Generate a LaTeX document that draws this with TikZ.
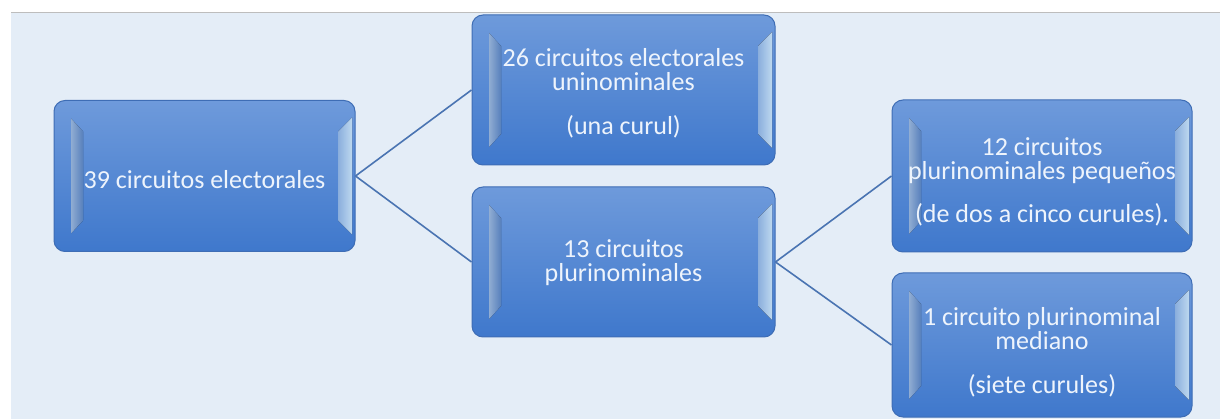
\documentclass[tikz,border=0pt]{standalone}
\usepackage{fontspec}
\setmainfont{Carlito}
\usetikzlibrary{calc}
\definecolor{bgblue}{HTML}{E4EDF7}
\definecolor{rulegray}{HTML}{BDBDBD}
\definecolor{boxtop}{HTML}{6E9ADB}
\definecolor{boxbot}{HTML}{3F78CC}
\definecolor{boxedge}{HTML}{3E6DB5}
\definecolor{bevlight}{HTML}{C8E4FC}
\definecolor{bevleft}{HTML}{A8C8F2}
\definecolor{linkblue}{HTML}{4A74B2}
\definecolor{txt}{HTML}{EEF4FC}
\tikzset{
  box/.style={draw=boxedge, line width=1pt, rounded corners=11pt,
    top color=boxtop, bottom color=boxbot, inner sep=0pt,
    path picture={
      \path (path picture bounding box.north west) coordinate (pnw)
            (path picture bounding box.south east) coordinate (pse);
      \fill[sharp corners, left color=bevleft, right color=boxtop!80!boxbot, opacity=0.85]
        ($(pnw)+(17pt,-18pt)$) -- ($(pnw)+(29pt,-31pt)$) -- ($(pnw|-pse)+(29pt,31pt)$) -- ($(pnw|-pse)+(17pt,18pt)$) -- cycle;
      \fill[sharp corners, left color=boxtop!60!bevlight, right color=bevlight, opacity=0.95]
        ($(pse|-pnw)+(-17pt,-31pt)$) -- ($(pse|-pnw)+(-3pt,-17pt)$) -- ($(pse)+(-3pt,17pt)$) -- ($(pse)+(-17pt,31pt)$) -- cycle;
    }},
  boxtext/.style={text=txt, align=center, font=\fontsize{26pt}{24pt}\selectfont, inner sep=0pt},
  link/.style={draw=linkblue, line width=1.6pt}
}
\begin{document}
\begin{tikzpicture}[x=1pt,y=-1pt]
\useasboundingbox (0,0) rectangle (1220,419);
\fill[bgblue] (11,13) rectangle (1220,419);
\draw[rulegray, line width=1pt] (11,13) -- (1220,13);

\node[box, minimum width=301pt, minimum height=151pt] (a) at (204.5,176) {};
\node[box, minimum width=303pt, minimum height=150pt] (b) at (623.5,90) {};
\node[box, minimum width=303pt, minimum height=150pt] (c) at (623.5,262) {};
\node[box, minimum width=300pt, minimum height=152pt] (d) at (1042,176) {};
\node[box, minimum width=300pt, minimum height=144pt] (e) at (1042,345) {};

\draw[link] (a.east) -- (b.west);
\draw[link] (a.east) -- (c.west);
\draw[link] (c.east) -- (d.west);
\draw[link] (c.east) -- (e.west);

\node[boxtext] (at) at (204.5,180) {39 circuitos electorales};
\node[boxtext] (bt) at (623.5,93.5) {26 circuitos electorales\\uninominales\\[20pt](una curul)};
\node[boxtext] (ct) at (623.5,263) {13 circuitos\\plurinominales};
\node[boxtext] (dt) at (1042,181.5) {12 circuitos\\plurinominales pequeños\\[19pt](de dos a cinco curules).};
\node[boxtext] (et) at (1042,352.5) {1 circuito plurinominal\\mediano\\[20pt](siete curules)};
\end{tikzpicture}
\end{document}
